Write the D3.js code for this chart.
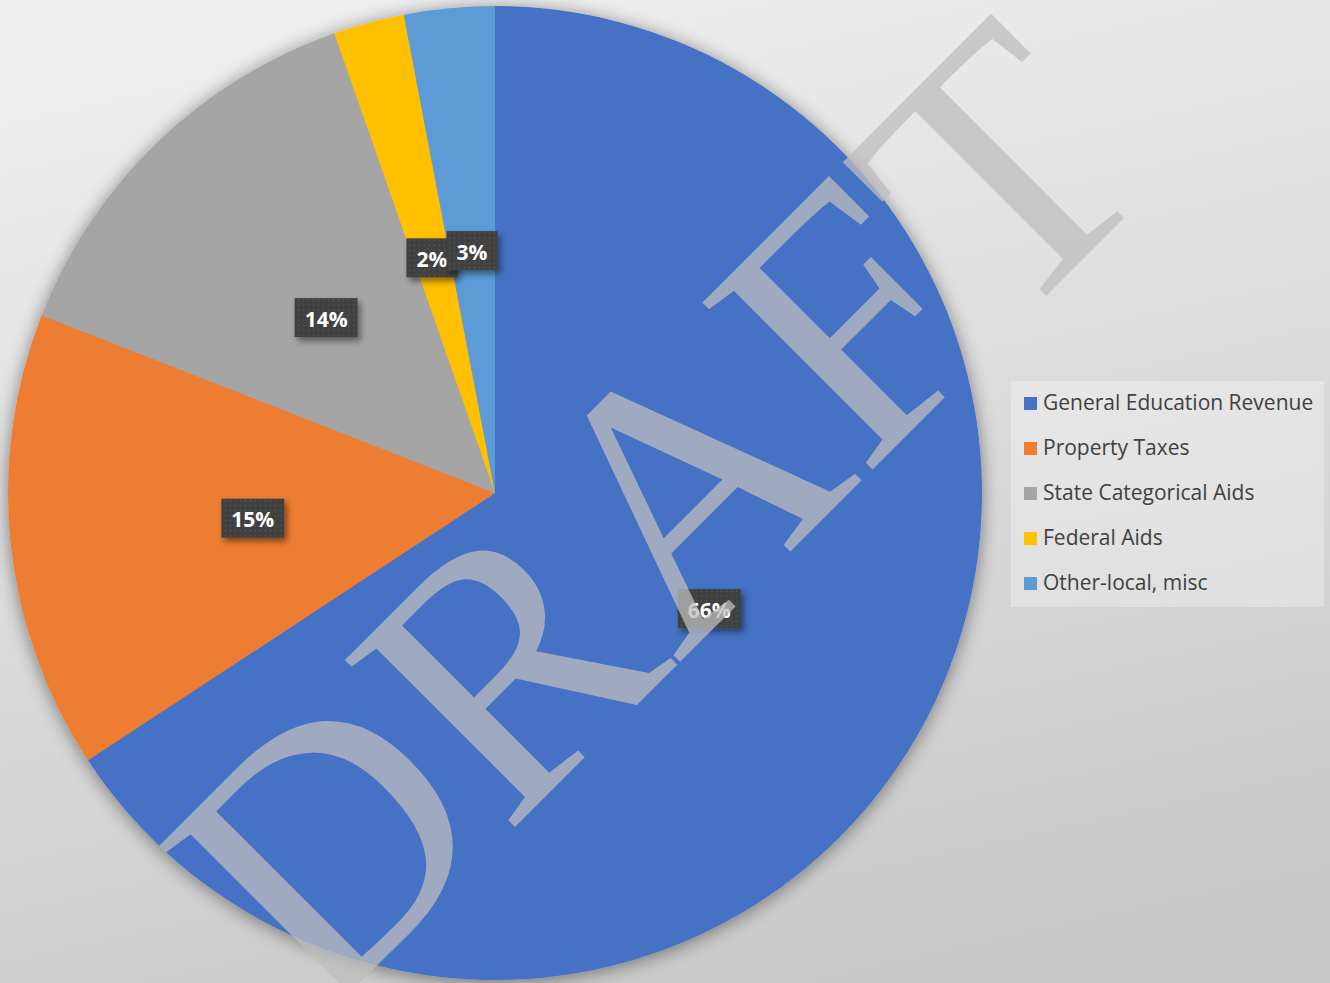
<!DOCTYPE html>
<html>
<head>
<meta charset="utf-8">
<script src="https://cdn.jsdelivr.net/npm/d3@7"></script>
<style>
  html, body { margin: 0; padding: 0; overflow: hidden; }
  svg { display: block; }
</style>
</head>
<body>
<div class="container"></div>
<script>
const categories = ["General Education Revenue", "Property Taxes", "State Categorical Aids", "Federal Aids", "Other-local, misc"]
const values = [65.75, 15.2, 13.7, 2.35, 3.0]
const colors = ["#4472C4", "#ED7D31", "#A5A5A5", "#FFC000", "#5B9BD5"]
const watermark = "DRAFT"

const drawChart = () => {
    const w = 1330
    const h = 983
    const cx = 495
    const cy = 493
    const radius = 487
    const total = d3.sum(values)

    const svg = d3.select(".container")
    .append("svg")
    .attr("width", w)
    .attr("height", h)

    const defs = svg.append("defs")

    const bg = defs.append("linearGradient")
    .attr("id", "bg")
    .attr("x1", "0.35").attr("y1", "0")
    .attr("x2", "0.65").attr("y2", "1")
    bg.append("stop").attr("offset", "0").attr("stop-color", "#eeeeee")
    bg.append("stop").attr("offset", "1").attr("stop-color", "#c8c8c8")

    defs.append("filter")
    .attr("id", "pieShadow")
    .attr("x", "-10%").attr("y", "-10%").attr("width", "120%").attr("height", "120%")
    .append("feDropShadow")
    .attr("dx", 0).attr("dy", 2)
    .attr("stdDeviation", 9)
    .attr("flood-color", "#000")
    .attr("flood-opacity", 0.45)

    defs.append("filter")
    .attr("id", "boxShadow")
    .attr("x", "-30%").attr("y", "-30%").attr("width", "160%").attr("height", "160%")
    .append("feDropShadow")
    .attr("dx", 3).attr("dy", 4)
    .attr("stdDeviation", 3)
    .attr("flood-color", "#000")
    .attr("flood-opacity", 0.45)

    const dots = defs.append("pattern")
    .attr("id", "dots")
    .attr("patternUnits", "userSpaceOnUse")
    .attr("width", 5).attr("height", 5)
    dots.append("rect").attr("width", 5).attr("height", 5).attr("fill", "#404040")
    dots.append("circle").attr("cx", 2.5).attr("cy", 2.5).attr("r", 0.9).attr("fill", "#535353")

    svg.append("rect")
    .attr("width", w)
    .attr("height", h)
    .attr("fill", "url(#bg)")

    const pie = d3.pie().sort(null).value((d) => d)
    const arcs = pie(values)
    const arc = d3.arc().innerRadius(0).outerRadius(radius)

    const pieG = svg.append("g")
    .attr("transform", "translate(" + cx + "," + cy + ")")

    pieG.append("g")
    .attr("filter", "url(#pieShadow)")
    .selectAll("path")
    .data(arcs)
    .enter()
    .append("path")
    .attr("d", arc)
    .attr("fill", (d, i) => colors[i])

    // data labels in dark boxes
    const labels = pieG.selectAll(".label")
    .data(arcs)
    .enter()
    .append("g")
    .attr("class", "label")
    .attr("transform", (d) => "translate(" + arc.centroid(d) + ")")

    labels.append("rect").attr("class", "box")

    labels.append("text")
    .attr("text-anchor", "middle")
    .attr("dominant-baseline", "central")
    .attr("y", 1)
    .style("font-family", "'Open Sans', sans-serif")
    .style("font-weight", "bold")
    .style("font-size", "21px")
    .attr("fill", "#ffffff")
    .text((d) => Math.round(d.value / total * 100) + "%")

    labels.each(function () {
        const g = d3.select(this)
        const tw = g.select("text").node().getComputedTextLength()
        const bw = tw + 20
        const bh = 39
        g.select("rect")
        .attr("x", -bw / 2)
        .attr("y", -bh / 2)
        .attr("width", bw)
        .attr("height", bh)
        .attr("fill", "url(#dots)")
        .attr("filter", "url(#boxShadow)")
    })

    // legend
    const legend = svg.append("g")
    .attr("transform", "translate(1011, 381)")

    legend.append("rect")
    .attr("width", 313)
    .attr("height", 226)
    .attr("fill", "#ffffff")
    .attr("fill-opacity", 0.3)

    const yLegend = d3.scalePoint()
    .domain(categories)
    .range([22, 202])

    const items = legend.selectAll(".item")
    .data(categories)
    .enter()
    .append("g")
    .attr("class", "item")
    .attr("transform", (d) => "translate(0," + yLegend(d) + ")")

    items.append("rect")
    .attr("x", 13)
    .attr("y", -6)
    .attr("width", 13)
    .attr("height", 13)
    .attr("fill", (d, i) => colors[i])

    items.append("text")
    .attr("x", 32)
    .attr("y", -1)
    .attr("dominant-baseline", "central")
    .style("font-family", "'Open Sans', sans-serif")
    .style("font-size", "21px")
    .attr("fill", "#404040")
    .text((d) => d)

    // watermark on top
    svg.append("text")
    .attr("transform", "translate(742, 600) rotate(-45)")
    .attr("text-anchor", "middle")
    .style("font-family", "'Liberation Serif', 'Times New Roman', serif")
    .style("font-size", "364px")
    .attr("fill", "#bdbdbf")
    .attr("fill-opacity", 0.75)
    .text(watermark)
}
document.addEventListener("DOMContentLoaded", drawChart)
</script>
</body>
</html>
